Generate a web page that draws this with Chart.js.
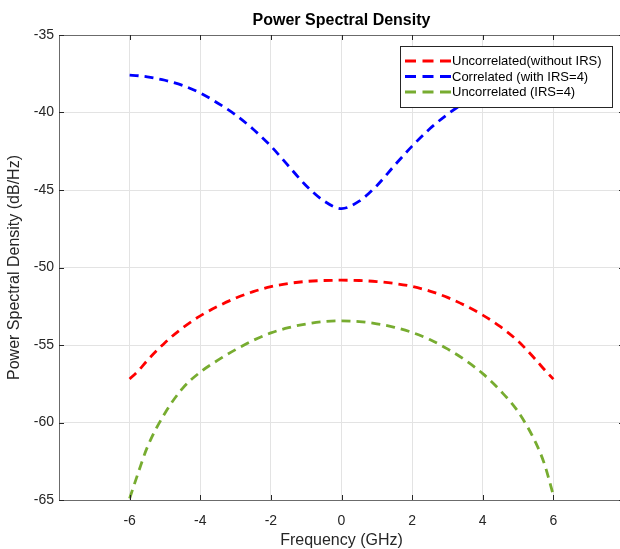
<!DOCTYPE html>
<html>
<head>
<meta charset="utf-8">
<script src="https://cdn.jsdelivr.net/npm/chart.js@4.4.1/dist/chart.umd.min.js"></script>
<style>
  html, body { margin: 0; padding: 0; background: #fff; overflow: hidden; }
  #wrap { width: 620px; height: 549px; overflow: hidden; }
  canvas { display: block; }
</style>
</head>
<body>
<div id="wrap"><canvas id="c" width="640" height="549" style="width:640px;height:549px"></canvas></div>
<script>
// ---- data ----
const freq = [-6, -5.75, -5.5, -5, -4.5, -4, -3.5, -3, -2.5, -2, -1.5, -1, -0.5, 0,
              0.5, 1, 1.5, 2, 2.5, 3, 3.5, 4, 4.5, 5, 5.5, 5.75, 6];
const uncorrNoIRS = [-57.2, -56.65, -56.0, -54.85, -53.9, -53.12, -52.5, -51.98, -51.56, -51.24, -51.03, -50.90, -50.84, -50.82,
                     -50.84, -50.91, -51.03, -51.22, -51.52, -51.93, -52.45, -53.07, -53.82, -54.75, -55.95, -56.6, -57.2];
const corrIRS4 = [-37.59, -37.63, -37.70, -37.92, -38.25, -38.74, -39.40, -40.15, -41.08, -42.17, -43.45, -44.72, -45.70, -46.20,
                  -45.72, -44.72, -43.42, -42.17, -41.05, -40.12, -39.35, -38.74, -38.25, -37.92, -37.70, -37.63, -37.59];
const uncorrIRS4 = [-64.9, -63.2, -61.6, -59.4, -57.8, -56.75, -55.98, -55.3, -54.7, -54.22, -53.88, -53.64, -53.49, -53.44,
                    -53.49, -53.63, -53.86, -54.19, -54.65, -55.25, -55.97, -56.85, -57.95, -59.3, -61.3, -62.7, -64.7];
const seriesLabels = ['Uncorrelated(without IRS)', 'Correlated (with IRS=4)', 'Uncorrelated (IRS=4)'];
const seriesColors = ['#FF0000', '#0000FF', '#77AC30'];
const xTicks = [-6, -4, -2, 0, 2, 4, 6];
const yTicks = [-65, -60, -55, -50, -45, -40, -35];
const xRange = [-8, 8];
const yRange = [-65, -35];

const FONT = "'Liberation Sans', Arial, Helvetica, sans-serif";
const AXIS_COLOR = '#6b6b6b';
const TEXT_COLOR = '#262626';

function pts(ys) { return freq.map((f, i) => ({ x: f, y: ys[i] })); }
const seriesData = [uncorrNoIRS, corrIRS4, uncorrIRS4];

const datasets = seriesData.map((d, i) => ({
  label: seriesLabels[i],
  data: pts(d),
  borderColor: seriesColors[i],
  backgroundColor: seriesColors[i],
  borderWidth: 2.8,
  borderDash: [9, 6],
  pointRadius: 0,
  fill: false,
  cubicInterpolationMode: 'monotone'
}));

// inside ticks + box line + boxed legend
const decorPlugin = {
  id: 'decor',
  afterDatasetsDraw(chart) {
    const { ctx, chartArea: a, scales } = chart;
    ctx.save();
    ctx.strokeStyle = AXIS_COLOR;
    ctx.lineWidth = 1;
    ctx.beginPath();
    ctx.moveTo(a.left + 0.5, a.bottom + 0.5);
    ctx.lineTo(a.left + 0.5, a.top + 0.5);
    ctx.lineTo(a.right + 0.5, a.top + 0.5);
    ctx.lineTo(a.right + 0.5, a.bottom + 0.5);
    ctx.lineTo(a.left + 0.5, a.bottom + 0.5);
    ctx.stroke();
    ctx.strokeStyle = '#262626';
    ctx.beginPath();
    const tl = 5;
    xTicks.forEach(v => {
      const x = Math.round(scales.x.getPixelForValue(v)) + 0.5;
      ctx.moveTo(x, a.bottom); ctx.lineTo(x, a.bottom - tl);
      ctx.moveTo(x, a.top); ctx.lineTo(x, a.top + tl);
    });
    yTicks.forEach(v => {
      const y = Math.round(scales.y.getPixelForValue(v)) + 0.5;
      ctx.moveTo(a.left, y); ctx.lineTo(a.left + tl, y);
      ctx.moveTo(a.right, y); ctx.lineTo(a.right - tl, y);
    });
    ctx.stroke();

    // legend
    const lx = 400, ly = 46, lw = 212, lh = 61;
    ctx.fillStyle = '#ffffff';
    ctx.fillRect(lx, ly, lw, lh);
    ctx.strokeStyle = '#262626';
    ctx.lineWidth = 1;
    ctx.strokeRect(lx + 0.5, ly + 0.5, lw, lh);
    ctx.font = '13px ' + FONT;
    ctx.textBaseline = 'middle';
    ctx.textAlign = 'left';
    chart.data.datasets.forEach((ds, i) => {
      const y = ly + 15 + i * 15.5;
      ctx.save();
      ctx.strokeStyle = ds.borderColor;
      ctx.lineWidth = 2.8;
      ctx.setLineDash([11, 6.5]);
      ctx.beginPath();
      ctx.moveTo(lx + 5, y);
      ctx.lineTo(lx + 51, y);
      ctx.stroke();
      ctx.restore();
      ctx.fillStyle = '#000';
      ctx.fillText(ds.label, lx + 52, y + 0.5);
    });
    ctx.restore();
  }
};

new Chart(document.getElementById('c'), {
  type: 'line',
  data: { datasets },
  plugins: [decorPlugin],
  options: {
    responsive: false,
    devicePixelRatio: 1,
    animation: false,
    layout: { padding: { left: 0, right: 16, top: 0, bottom: 0 } },
    plugins: {
      legend: { display: false },
      tooltip: { enabled: false },
      title: {
        display: true,
        text: 'Power Spectral Density',
        fullSize: false,
        color: '#000',
        font: { family: FONT, size: 16, weight: 'bold' },
        padding: { top: 11.4, bottom: 4.4 }
      }
    },
    scales: {
      x: {
        type: 'linear',
        min: xRange[0], max: xRange[1],
        afterBuildTicks: s => { s.ticks = xTicks.map(v => ({ value: v })); },
        afterFit: s => { s.height = 49; },
        grid: { color: '#e3e3e3', lineWidth: 1, drawTicks: false },
        border: { display: false },
        ticks: { color: TEXT_COLOR, font: { family: FONT, size: 14 }, padding: 13, maxRotation: 0 },
        title: { display: true, text: 'Frequency (GHz)', color: TEXT_COLOR,
                 font: { family: FONT, size: 16, lineHeight: 1 }, padding: { top: 0, bottom: 0 } }
      },
      y: {
        type: 'linear',
        min: yRange[0], max: yRange[1],
        afterBuildTicks: s => { s.ticks = yTicks.map(v => ({ value: v })); },
        afterFit: s => { s.width = 59; },
        grid: { color: '#e3e3e3', lineWidth: 1, drawTicks: false },
        border: { display: false },
        ticks: { color: TEXT_COLOR, font: { family: FONT, size: 14 }, padding: 5 },
        title: { display: true, text: 'Power Spectral Density (dB/Hz)', color: TEXT_COLOR,
                 font: { family: FONT, size: 16 }, padding: { top: 5, bottom: 0 } }
      }
    }
  }
});
</script>
</body>
</html>
